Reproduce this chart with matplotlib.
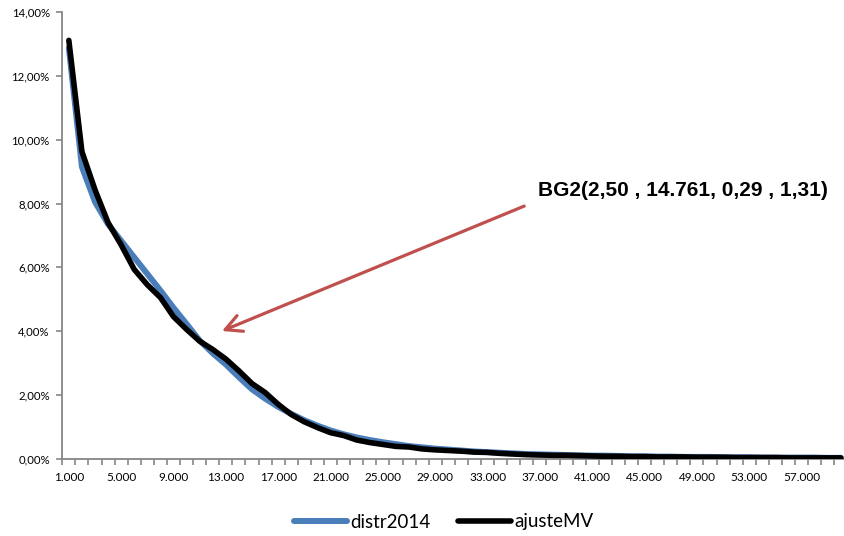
import matplotlib
matplotlib.use("Agg")
import matplotlib.pyplot as plt
from matplotlib.ticker import FixedLocator, FuncFormatter

# ---- data ----
categories = list(range(1, 61))  # 1.000 ... 60.000
distr2014 = [12.88, 9.15, 8.05, 7.35, 6.83, 6.31, 5.79, 5.27, 4.73, 4.22,
             3.70, 3.30, 2.95, 2.55, 2.17, 1.88, 1.62, 1.40, 1.20, 1.03,
             0.88, 0.76, 0.66, 0.58, 0.51, 0.45, 0.39, 0.35, 0.31, 0.28,
             0.25, 0.22, 0.20, 0.18, 0.16, 0.14, 0.13, 0.12, 0.11, 0.10,
             0.09, 0.09, 0.08, 0.07, 0.07, 0.06, 0.06, 0.05, 0.05, 0.05,
             0.04, 0.04, 0.04, 0.03, 0.03, 0.03, 0.03, 0.03, 0.02, 0.02]
ajusteMV = [13.12, 9.63, 8.43, 7.40, 6.70, 5.93, 5.45, 5.05, 4.45, 4.05,
            3.68, 3.42, 3.12, 2.75, 2.35, 2.07, 1.70, 1.38, 1.15, 0.97,
            0.81, 0.72, 0.58, 0.50, 0.44, 0.38, 0.36, 0.30, 0.27, 0.25,
            0.23, 0.20, 0.19, 0.16, 0.14, 0.12, 0.11, 0.10, 0.10, 0.09,
            0.08, 0.07, 0.07, 0.06, 0.06, 0.05, 0.05, 0.05, 0.04, 0.04,
            0.04, 0.03, 0.03, 0.03, 0.03, 0.02, 0.02, 0.02, 0.02, 0.02]
y_ticks = [0, 2, 4, 6, 8, 10, 12, 14]
x_label_cats = list(range(1, 61, 4))
annotation_text = "BG2(2,50 , 14.761, 0,29 , 1,31)"

fig = plt.figure(figsize=(8.45, 5.36), dpi=100)
ax = fig.add_axes([62.3 / 845, (536 - 458.5) / 536, (847.4 - 62.3) / 845, (458.5 - 12.3) / 536])

ax.plot(categories, distr2014, color="#4A7EBB", lw=4.3, solid_joinstyle="round",
        solid_capstyle="round", label="distr2014", zorder=3)
ax.plot(categories, ajusteMV, color="#000000", lw=4.0, solid_joinstyle="round",
        solid_capstyle="round", label="ajusteMV", zorder=4)

ax.set_xlim(0.5, 60.5)
ax.set_ylim(0, 14)

for s in ["top", "right"]:
    ax.spines[s].set_visible(False)
for s in ["left", "bottom"]:
    ax.spines[s].set_color("#868686")
    ax.spines[s].set_linewidth(1.3)

ax.yaxis.set_major_locator(FixedLocator(y_ticks))
ax.yaxis.set_major_formatter(FuncFormatter(lambda v, p: f"{v:.2f}%".replace(".", ",")))
ax.tick_params(axis="y", direction="out", length=4, width=1.2, color="#868686", pad=5,
               labelsize=8.2, labelcolor="#000000")

ax.xaxis.set_major_locator(FixedLocator(x_label_cats))
ax.xaxis.set_major_formatter(FuncFormatter(lambda v, p: f"{int(round(v))}.000"))
ax.xaxis.set_minor_locator(FixedLocator([c + 0.5 for c in [0] + categories]))
ax.tick_params(axis="x", which="major", length=0, pad=10, labelsize=8.5, labelcolor="#000000")
ax.tick_params(axis="x", which="minor", direction="out", length=4, width=1.2, color="#868686")
for lab in ax.get_xticklabels() + ax.get_yticklabels():
    lab.set_family("Lato")

ax.annotate("", xy=(12.7, 4.0), xytext=(35.8, 7.92),
            arrowprops=dict(arrowstyle="->,head_length=0.87,head_width=0.45",
                            color="#C0504D", lw=2.3, mutation_scale=13.5,
                            shrinkA=0, shrinkB=0))
ax.text(36.85, 8.40, annotation_text, fontsize=15, fontweight="bold",
        family="Liberation Sans", ha="left", va="center")

fig.legend(loc="center", bbox_to_anchor=(444 / 845, (536 - 522) / 536), ncol=2, frameon=False,
           prop=dict(family="Lato", size=13.5), handlelength=2.8, handletextpad=0.2,
           columnspacing=1.45)

fig.savefig("out.png", dpi=100)
